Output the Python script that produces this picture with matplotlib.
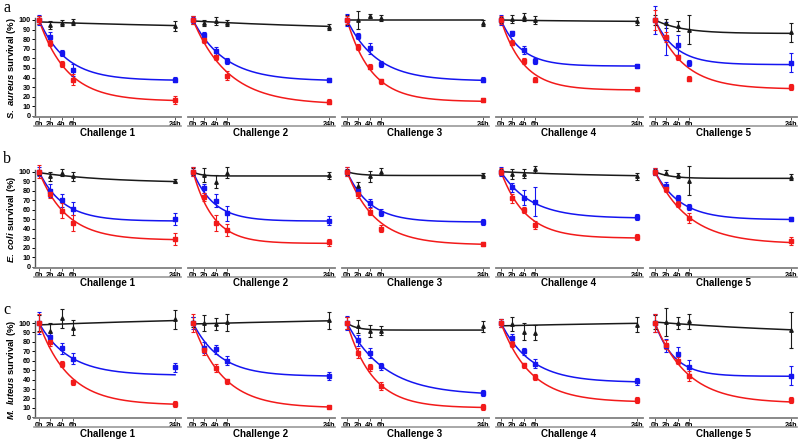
import numpy as np
import matplotlib.pyplot as plt

plt.rcParams['font.family'] = ['Liberation Sans', 'DejaVu Sans']
plt.rcParams['font.weight'] = 'bold'
plt.rcParams['mathtext.fontset'] = 'custom'
plt.rcParams['mathtext.it'] = 'Liberation Sans:italic:bold'
plt.rcParams['mathtext.rm'] = 'Liberation Sans:bold'

hours = [0, 2, 4, 6, 24]
hour_labels = ['0h', '2h', '4h', '6h', '24h']
challenges = ['Challenge 1', 'Challenge 2', 'Challenge 3', 'Challenge 4', 'Challenge 5']
row_letters = ['a', 'b', 'c']
row_labels = [r'$S.\ aureus$ survival (%)', r'$E.\ coli$ survival (%)', r'$M.\ luteus$ survival (%)']

# mean survival (%), [row][challenge][time point]
black_mean = [
    [[100, 95, 97, 98, 94], [100, 97, 99, 97, 93], [100, 100, 104, 102, 97], [100, 101, 103, 100, 99], [100, 96.5, 94, 90, 87]],
    [[99, 95, 99, 95, 90], [100, 96.5, 89.5, 99, 96], [100, 85, 95, 100, 96], [100, 97.5, 98, 102.5, 95], [100, 99, 96, 90.5, 94.5]],
    [[100, 92, 105, 95, 104], [101, 100, 99, 101, 103], [100, 96.5, 91.5, 92, 96.5], [100, 99, 90.5, 89.5, 98], [101, 101, 100, 102, 93]],
]
black_err = [
    [[4, 4, 3, 3, 5], [4, 3, 4, 3, 3], [5, 9, 2, 3, 3], [3, 4, 4, 4, 4], [5, 5, 5, 15, 10]],
    [[3, 5, 4, 5, 2], [4, 7, 7, 6, 4], [3, 4, 6, 4, 3], [3, 5, 5, 4, 4], [3, 3, 3, 15, 3]],
    [[8, 8, 10, 8, 10], [5, 8, 6, 9, 9], [6, 7, 6, 5, 6], [4, 7, 9, 8, 8], [7, 15, 6, 8, 19]],
]
blue_mean = [
    [[100, 82, 66, 48, 38], [100, 84, 68, 57, 37.5], [100, 83, 70.5, 54, 38], [100, 86, 69, 57, 52], [100, 81, 74, 55, 55.5]],
    [[100, 80, 70, 61, 50], [100, 82.5, 69.5, 56, 48.5], [100, 80, 67, 57, 47], [100, 83.5, 72.5, 68.5, 52], [100, 85, 72, 62.5, 50.5]],
    [[100, 85.5, 73, 62, 53], [100, 74, 72, 60, 44], [100, 81.5, 68, 54, 26], [100, 84, 70, 57, 38], [100, 76, 67, 53, 44]],
]
blue_err = [
    [[5, 5, 3, 6, 3], [3, 3, 4, 3, 2], [6, 3, 6, 3, 3], [5, 3, 4, 3, 2], [15, 17, 10, 3, 10]],
    [[5, 7, 7, 7, 6], [5, 5, 7, 8, 5], [5, 4, 4, 4, 3], [5, 5, 8, 15, 3], [4, 4, 3, 3, 2]],
    [[12, 4, 6, 6, 5], [6, 6, 5, 5, 4], [7, 6, 5, 4, 3], [4, 4, 4, 5, 4], [10, 7, 8, 8, 10]],
]
red_mean = [
    [[100, 76, 54, 38, 16.5], [100, 79, 61, 42, 15], [100, 72, 51.5, 36, 17], [100, 76.5, 57, 38, 28], [100, 82, 61, 39, 30]],
    [[100, 77, 59, 46, 29], [100, 73.5, 46, 38.5, 25.5], [100, 77, 58, 40, 24], [100, 72, 59.5, 44, 31], [100, 81.5, 66, 51, 27]],
    [[100, 80, 56.5, 37, 14], [100, 71, 52.5, 38, 11], [100, 68, 53, 33, 11], [100, 78, 55, 43, 18], [100, 77, 60, 44, 18]],
]
red_err = [
    [[4, 3, 3, 6, 4], [4, 3, 3, 5, 3], [4, 3, 3, 3, 2], [4, 3, 3, 3, 2], [10, 5, 3, 3, 3]],
    [[7, 5, 8, 8, 6], [5, 4, 8, 6, 4], [5, 5, 4, 4, 2], [4, 5, 3, 4, 3], [4, 3, 3, 5, 4]],
    [[10, 4, 3, 3, 3], [10, 5, 4, 3, 1], [6, 5, 4, 4, 3], [4, 3, 3, 3, 3], [10, 5, 4, 5, 3]],
]

# one-phase decay fits: (start, plateau, rate per hour)
black_fit = [
    [(98, 88, 0.02), (99, 88, 0.03), (100, 100, 0.1), (100, 98, 0.05), (100, 86, 0.21)],
    [(99, 88, 0.08), (100, 95.5, 0.8), (100, 96, 0.5), (100, 94, 0.05), (100, 93, 0.4)],
    [(98, 110, 0.02), (99, 110, 0.015), (100, 92.5, 0.6), (97, 104, 0.02), (101, 85, 0.03)],
]
blue_fit = [
    [(100, 37, 0.21), (100, 36.5, 0.18), (100, 36.5, 0.19), (100, 52, 0.28), (100, 53.5, 0.27)],
    [(100, 48, 0.235), (100, 48, 0.275), (100, 47, 0.25), (100, 51, 0.19), (100, 49.5, 0.225)],
    [(100, 44.5, 0.19), (100, 43.5, 0.21), (100, 23.5, 0.15), (100, 37, 0.19), (100, 43.5, 0.3)],
]
red_fit = [
    [(100, 15.5, 0.2), (100, 12, 0.16), (100, 15, 0.23), (100, 27, 0.25), (100, 28, 0.2)],
    [(100, 28, 0.205), (100, 24.5, 0.28), (100, 23, 0.2), (100, 30, 0.23), (100, 24, 0.166)],
    [(100, 13, 0.19), (100, 10, 0.19), (100, 10, 0.22), (100, 16, 0.19), (100, 15, 0.175)],
]

series = [
    (black_mean, black_err, black_fit, '#1a1a1a', '^'),
    (blue_mean, blue_err, blue_fit, '#1515f0', 's'),
    (red_mean, red_err, red_fit, '#f21a1a', 's'),
]

W, H = 800, 442
fig = plt.figure(figsize=(W / 100, H / 100), dpi=100)

row_zero_px = [116, 266.7, 417.3]
row_ppu = [0.96, 0.95, 0.943]
px_per_h = 5.67
t_fit = np.linspace(0, 24, 200)

for r in range(3):
    for c in range(5):
        x0h = 39 + 154 * c
        left = x0h - 1 * px_per_h
        width = 26 * px_per_h
        ppu = row_ppu[r]
        bottom_px = row_zero_px[r] + 2 * ppu
        height = 112 * ppu
        ax = fig.add_axes([left / W, 1 - bottom_px / H, width / W, height / H])
        ax.set_xlim(-1, 25)
        ax.set_ylim(-2, 110)
        ax.patch.set_alpha(0)

        for mean, err, fit, color, marker in series:
            y0, plateau, k = fit[r][c]
            ax.plot(t_fit, plateau + (y0 - plateau) * np.exp(-k * t_fit), color=color, lw=1.1, zorder=2)
            ax.errorbar(hours, mean[r][c], yerr=err[r][c], fmt=marker, color=color, ms=2.5,
                        elinewidth=0.8, capsize=1.3, capthick=0.8, zorder=3, clip_on=False)

        for s in ['top', 'right']:
            ax.spines[s].set_visible(False)
        ax.spines['bottom'].set_position(('data', -1))
        ax.spines['bottom'].set_bounds(-0.9, 25)
        ax.spines['bottom'].set_color('#808080')
        ax.spines['bottom'].set_linewidth(1.3)
        ax.set_xticks(hours)
        ax.set_xticklabels(hour_labels)
        ax.tick_params(axis='x', length=2, width=0.7, pad=1, labelsize=5.2, color='#555555')
        # grey rule under the time labels
        ax.plot([-0.9, 25], [-10.5, -10.5], color='#9a9a9a', lw=1.2, clip_on=False)
        ax.text(12, -17.5, challenges[c], ha='center', va='center', fontsize=7, fontweight='bold')

        if c == 0:
            ax.spines['left'].set_position(('data', -0.7))
            ax.spines['left'].set_bounds(0, 102)
            ax.spines['left'].set_color('#555555')
            ax.spines['left'].set_linewidth(1.0)
            ax.set_yticks(range(0, 101, 10))
            ax.tick_params(axis='y', length=2, width=0.7, pad=1, labelsize=5.2)
            ax.text(-4.8, 50, row_labels[r], rotation=90, ha='center', va='center', fontsize=6.8)
        else:
            ax.spines['left'].set_visible(False)
            ax.set_yticks([])

for r in range(3):
    top_px = [0, 151, 302][r]
    fig.text(3 / W, 1 - top_px / H, row_letters[r], ha='left', va='top', fontsize=11.5,
             family='Liberation Serif', fontweight='normal')

fig.savefig('out.png', dpi=100)
